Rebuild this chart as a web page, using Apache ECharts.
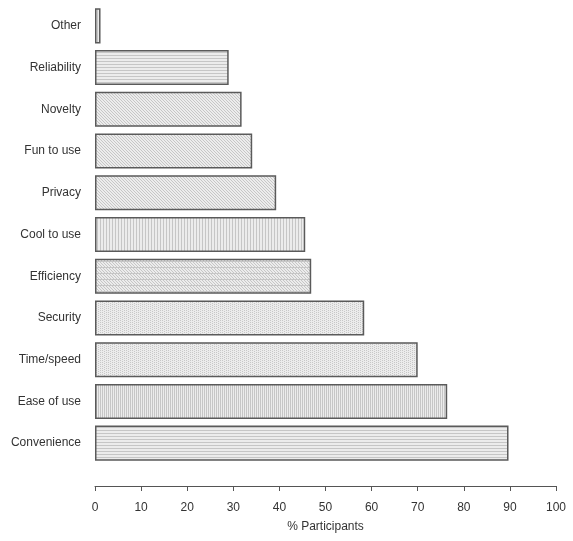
<!DOCTYPE html>
<html>
<head>
<meta charset="utf-8">
<script src="https://cdn.jsdelivr.net/npm/echarts@6/dist/echarts.min.js"></script>
<style>html,body{margin:0;padding:0;background:#fff;}#c{width:573px;height:541px;}</style>
</head>
<body>
<div id="c"></div>
<script>
const categories = ['Other','Reliability','Novelty','Fun to use','Privacy','Cool to use','Efficiency','Security','Time/speed','Ease of use','Convenience'];
const values = [1.2, 29.0, 31.8, 34.1, 39.3, 45.6, 46.9, 58.4, 70.0, 76.4, 89.7];
const xTicks = [0,10,20,30,40,50,60,70,80,90,100];

const patternTypes = ['vert','horiz','diag','diag','diag','vert','cross','dots','dots','vfine','horiz'];

function makePattern(type){
  const c = document.createElement('canvas');
  const s = 6;
  c.width = s; c.height = s;
  const g = c.getContext('2d');
  g.fillStyle = '#ececec';
  g.fillRect(0,0,s,s);
  g.strokeStyle = '#c6c6c6';
  g.lineWidth = 1;
  g.beginPath();
  if(type==='vert'){ g.moveTo(1.5,0); g.lineTo(1.5,s); g.moveTo(4.5,0); g.lineTo(4.5,s); }
  else if(type==='horiz'){ g.moveTo(0,1.5); g.lineTo(s,1.5); g.moveTo(0,4.5); g.lineTo(s,4.5); }
  else if(type==='diag'){ for(let k=-s;k<=s;k+=3){ g.moveTo(k,0); g.lineTo(k+s,s);} }
  else if(type==='cross'){ for(let k=-s;k<=s;k+=3){ g.moveTo(k,0); g.lineTo(k+s,s);} g.moveTo(0,3.5); g.lineTo(s,3.5); }
  else if(type==='vfine'){ g.moveTo(0.5,0); g.lineTo(0.5,s); g.moveTo(2.5,0); g.lineTo(2.5,s); g.moveTo(4.5,0); g.lineTo(4.5,s); }
  g.stroke();
  if(type==='dots'){
    g.fillStyle = '#c8c8c8';
    for(let i=0;i<s;i+=2) for(let j=(i/2)%2;j<s;j+=2) g.fillRect(i,j,1,1);
  }
  return c;
}

const chart = echarts.init(document.getElementById('c'), null, {renderer:'canvas'});
chart.setOption({
  animation:false,
  backgroundColor:'#fff',
  grid:{left:95, right:17, top:5, bottom:77, containLabel:false},
  xAxis:{
    type:'value', min:0, max:100, interval:10, offset:22,
    axisLine:{show:true, lineStyle:{color:'#555', width:1}},
    axisTick:{show:true, length:5, lineStyle:{color:'#555'}},
    axisLabel:{margin:16, color:'#333', fontSize:12, fontFamily:'Liberation Sans, Arial',
      formatter:v=>xTicks.includes(v)?String(v):''},
    splitLine:{show:false},
    name:'% Participants', nameLocation:'middle', nameGap:35,
    nameTextStyle:{color:'#333', fontSize:12, fontFamily:'Liberation Sans, Arial'}
  },
  yAxis:{
    type:'category', data:categories, inverse:true,
    axisLine:{show:false}, axisTick:{show:false},
    axisLabel:{margin:14, color:'#333', fontSize:12, fontFamily:'Liberation Sans, Arial'}
  },
  series:[{
    type:'bar',
    barCategoryGap:'16%',
    data: values.map((v,i)=>({value:v, itemStyle:{color:{image:makePattern(patternTypes[i]), repeat:'repeat'}}})),
    itemStyle:{borderColor:'#5a5a5a', borderWidth:1.5}
  }]
});
</script>
</body>
</html>
